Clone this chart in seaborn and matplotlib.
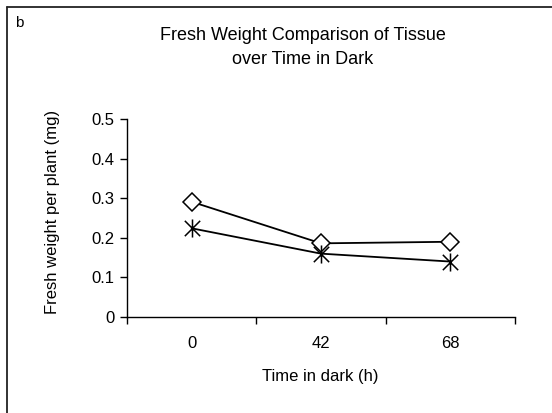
import matplotlib
matplotlib.use("Agg")
import matplotlib.pyplot as plt
import seaborn as sns
import pandas as pd
from matplotlib.lines import Line2D
from matplotlib.path import Path

times = ["0", "42", "68"]
series_a = [0.291, 0.186, 0.190]
series_b = [0.224, 0.160, 0.140]
yticks = [0, 0.1, 0.2, 0.3, 0.4, 0.5]
ytick_labels = ["0", "0.1", "0.2", "0.3", "0.4", "0.5"]

sns.set_theme(style="white")
plt.rcParams["font.family"] = ["Liberation Sans", "DejaVu Sans"]
plt.rcParams["text.color"] = "black"
plt.rcParams["xtick.color"] = "black"
plt.rcParams["ytick.color"] = "black"

pos = list(range(len(times)))
df_a = pd.DataFrame({"pos": pos, "weight": series_a})
df_b = pd.DataFrame({"pos": pos, "weight": series_b})

# Excel-style star marker: an X with a vertical bar
star = Path([(0, -1), (0, 1), (-0.85, -0.85), (0.85, 0.85), (-0.85, 0.85), (0.85, -0.85)],
            [Path.MOVETO, Path.LINETO, Path.MOVETO, Path.LINETO, Path.MOVETO, Path.LINETO])

fig = plt.figure(figsize=(5.52, 4.13), dpi=100)
ax = fig.add_axes([127/552, 1-317/413, (515-127)/552, (317-119)/413])

sns.lineplot(data=df_a, x="pos", y="weight", color="black", marker="D",
             markersize=9.5, markerfacecolor="white", markeredgecolor="black",
             markeredgewidth=1.1, linewidth=1.3, ax=ax)
sns.lineplot(data=df_b, x="pos", y="weight", color="black", marker=star,
             markersize=13, markerfacecolor="none", markeredgecolor="black",
             markeredgewidth=1.1, linewidth=1.3, ax=ax)

ax.set_xlim(-0.5, len(times) - 0.5)
ax.set_ylim(0, 0.5)
ax.set_yticks(yticks)
ax.set_yticklabels(ytick_labels, fontsize=12)
ax.set_xticks(pos)
ax.set_xticklabels(times, fontsize=12)
ax.set_xticks([i - 0.5 for i in range(len(times) + 1)], minor=True)
ax.tick_params(axis="x", which="major", length=0, pad=14, colors="black")
ax.tick_params(axis="x", which="minor", length=5, width=1, color="black", direction="out", bottom=True)
ax.tick_params(axis="y", which="major", length=5, width=1, color="black", direction="out", left=True, pad=4)
ax.set_xlabel("")
ax.set_ylabel("")
for s in ["top", "right"]:
    ax.spines[s].set_visible(False)
for s in ["left", "bottom"]:
    ax.spines[s].set_color("black")
    ax.spines[s].set_linewidth(1)
ax.set_facecolor("white")

fig.text(303/552, 1-36/413, "Fresh Weight Comparison of Tissue", ha="center", va="center", fontsize=13)
fig.text(303/552, 1-60/413, "over Time in Dark", ha="center", va="center", fontsize=13)
fig.text(320/552, 1-377/413, "Time in dark (h)", ha="center", va="center", fontsize=12)
fig.text(53/552, 1-212/413, "Fresh weight per plant (mg)", ha="center", va="center", rotation=90, fontsize=12)
fig.text(15/552, 1-27/413, "b", ha="left", va="baseline", fontsize=11)

fig.add_artist(Line2D([6.5/552, 6.5/552], [0, 1-6.5/413], color="#222222", lw=1.3, transform=fig.transFigure))
fig.add_artist(Line2D([6.5/552, 1], [1-6.5/413, 1-6.5/413], color="#222222", lw=1.3, transform=fig.transFigure))

fig.savefig("out.png", dpi=100, facecolor="white")
